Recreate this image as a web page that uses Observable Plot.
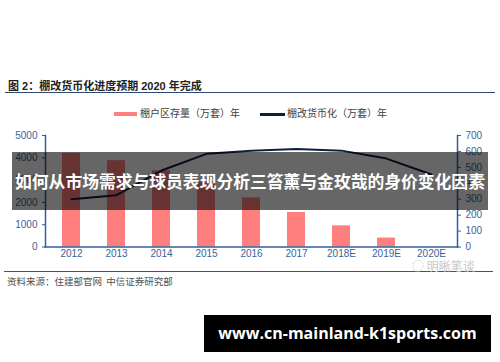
<!DOCTYPE html>
<html><head><meta charset="utf-8">
<script src="https://cdn.jsdelivr.net/npm/d3@7"></script>
<script src="https://cdn.jsdelivr.net/npm/@observablehq/plot@0.6"></script>
<style>
html,body{margin:0;padding:0;background:#fff;}
#wrap{position:relative;width:500px;height:362px;overflow:hidden;font-family:"Liberation Sans","Noto Sans CJK SC",sans-serif;}
.abs{position:absolute;white-space:nowrap;}
#title{left:8px;top:77px;font-size:11px;font-weight:bold;color:#222;font-family:"Liberation Sans","Noto Sans CJK SC";}
#tline{left:5px;top:92px;width:490px;height:0;border-top:1.5px solid #2c4a78;}
#legend{left:114px;top:105px;font-size:10px;color:#404040;font-family:"Noto Sans CJK SC";}
#legend span.sw{display:inline-block;vertical-align:middle;}
#bline{left:4px;top:271px;width:489px;height:0;border-top:1.2px solid #2c5a8f;}
#source{left:7px;top:274px;font-size:9.5px;color:#505050;font-family:"Noto Sans CJK SC";}
#wm{left:412px;top:257px;font-size:12px;color:#c8c8c8;font-family:"Noto Sans CJK SC";}
#banner{left:12px;top:152px;width:476px;height:58px;background:rgba(0,0,0,0.6);color:#fff;font-weight:bold;font-size:16.8px;text-align:center;line-height:58px;font-family:"Noto Sans CJK SC";}
#url{left:204px;top:315px;width:287px;height:37px;background:#000;color:#fff;font-weight:bold;font-size:16px;text-align:center;line-height:37px;font-family:"Open Sans";}
#chart{position:absolute;left:0;top:120px;}
</style></head>
<body><div id="wrap">
<div id="title" class="abs">图 2：棚改货币化进度预期 2020 年完成</div>
<div id="tline" class="abs"></div>
<div id="legend" class="abs"></div>
<div id="chart"></div>
<div id="bline" class="abs"></div>
<div id="source" class="abs">资料来源：住建部官网&nbsp;&nbsp;中信证券研究部</div>
<div id="wm" class="abs">◌ 明晰笔谈</div>
<div id="banner" class="abs">如何从市场需求与球员表现分析三笞薰与金玫哉的身价变化因素</div>
<div id="url" class="abs">www.cn-mainland-k1sports.com</div>
</div>
<script>
const years = ["2012","2013","2014","2015","2016","2017","2018E","2019E","2020E"];
const stock = [4200,3870,3420,2900,2200,1550,950,400,null];
const monetized = [300,325,480,585,605,615,605,555,455];
const leftTicks = [0,1000,2000,3000,4000,5000];
const rightTicks = [0,100,200,300,400,500,600,700];
const seriesNames = ["棚户区存量（万套）年","棚改货币化（万套）年"];

const barColor = "#ff7e7e";
const lineColor = "#0e1f40";
const axisColor = "#2f5f9a";
const tickText = "#3a6298";
const k = 5000/700;

const data = years.map((y,i)=>({year:y, stock:stock[i], mon:monetized[i]}));

const lg = document.getElementById("legend");
lg.innerHTML = `<span class="sw" style="width:23px;height:4px;background:${barColor};margin-right:3px"></span>${seriesNames[0]}` +
  `<span class="sw" style="width:25px;height:2.5px;background:${lineColor};margin-left:20px;margin-right:2px"></span>${seriesNames[1]}`;

const plot = Plot.plot({
  width: 500, height: 155,
  marginLeft: 45, marginRight: 43, marginTop: 15, marginBottom: 28.5,
  style: {fontFamily: "Liberation Sans", fontSize: "10px", color: tickText, background: "transparent"},
  x: {domain: years, paddingInner: 0.6, paddingOuter: 0.3, label: null},
  y: {domain: [0,5000], label: null},
  marks: [
    Plot.barY(data.filter(d=>d.stock!=null), {x:"year", y:"stock", fill: barColor}),
    Plot.line(data, {x:"year", y: d=>d.mon*k, stroke: lineColor, strokeWidth: 2}),
    Plot.frame({anchor:"left", stroke: axisColor, strokeWidth: 1.5}),
    Plot.frame({anchor:"right", stroke: axisColor, strokeWidth: 1.5}),
    Plot.frame({anchor:"bottom", stroke: axisColor, strokeWidth: 1.5}),
    Plot.axisY({anchor:"left", ticks: leftTicks, tickFormat: d=>String(d), tickSize: 3, tickPadding: 5, stroke: axisColor, label: null, fill: tickText}),
    Plot.axisY({anchor:"right", ticks: rightTicks.map(v=>v*k), tickFormat: d=>String(Math.round(d/k)), tickSize: 3, tickPadding: 5, stroke: axisColor, label: null, fill: tickText}),
    Plot.axisX({anchor:"bottom", tickSize: 0, tickPadding: 3, label: null, fill: tickText})
  ]
});
document.getElementById("chart").appendChild(plot);
</script>
</body></html>
